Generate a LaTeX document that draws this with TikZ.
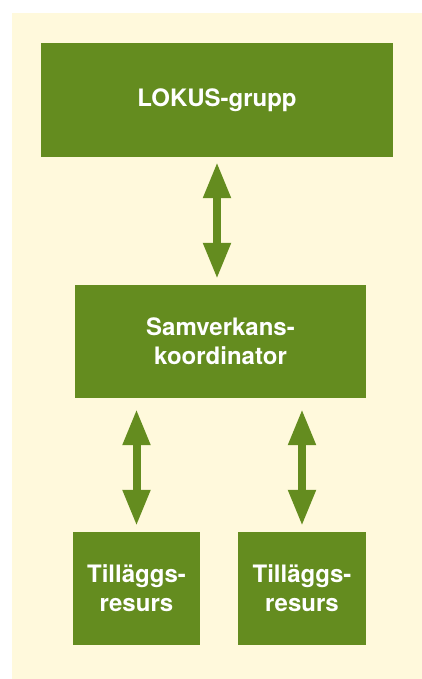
\documentclass[tikz,border=0pt]{standalone}
\usepackage{fontspec}
\setsansfont{TeX Gyre Heros}
\usetikzlibrary{arrows.meta}
\definecolor{cream}{RGB}{255, 249, 220}
\definecolor{leafgreen}{RGB}{100, 140, 31}

\tikzset{
  box/.style = {rectangle, fill = leafgreen, text = white, inner sep = 0pt, align = center,
    font = \sffamily\bfseries\fontsize{24}{29}\selectfont},
  dbl/.style = {draw = leafgreen, line width = 8pt,
    {Triangle[width = 26pt, length = 36pt]}-{Triangle[width = 26pt, length = 36pt]}}
}

\begin{document}
\begin{tikzpicture}[x = 1pt, y = -1pt]
			\useasboundingbox (0,0) rectangle (422,679);
			\fill[cream] (12,13) rectangle (422,679);
			\node (lokus) at (217,100) [box, minimum width = 352pt, minimum height = 114pt] {LOKUS-grupp};
			\node (samv) at (220.5,341.5) [box, minimum width = 291pt, minimum height = 113pt] {Samverkans-\\koordinator};
			\node (res1) at (136.5,588.5) [box, minimum width = 127pt, minimum height = 113pt] {Tilläggs-\\resurs};
			\node (res2) at (302,588.5) [box, minimum width = 128pt, minimum height = 113pt] {Tilläggs-\\resurs};
			\draw[dbl, shorten <= 5pt, shorten >= 6pt] (lokus) -- (lokus |- samv.north);
			\draw[dbl, shorten <= 11pt, shorten >= 6pt] (samv.south -| res1) -- (res1);
			\draw[dbl, shorten <= 11pt, shorten >= 6pt] (samv.south -| res2) -- (res2);
\end{tikzpicture}
\end{document}
